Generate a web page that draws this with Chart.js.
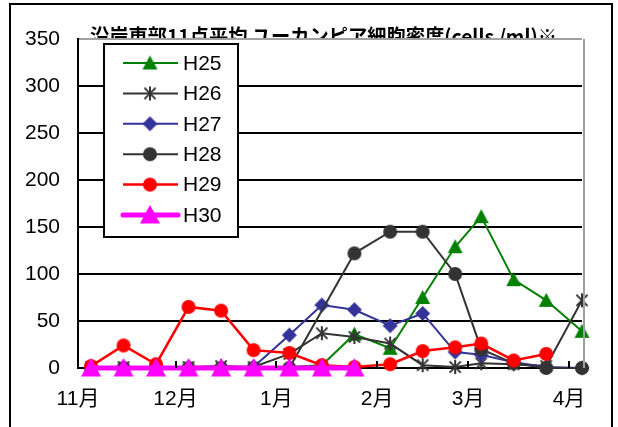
<!DOCTYPE html>
<html>
<head>
<meta charset="utf-8">
<script src="https://cdn.jsdelivr.net/npm/chart.js@4.4.1/dist/chart.umd.min.js"></script>
<style>
  html, body { margin: 0; padding: 0; background: #fff; }
  #wrap { width: 618px; height: 427px; position: relative; }
</style>
</head>
<body>
<div id="wrap"><canvas id="c" width="618" height="427"></canvas></div>
<script>
// ---- data ----
const TITLE = '沿岸東部11点平均 ユーカンピア細胞密度(cells /ml)※';

// sampling dates (month/day), every 5th, 15th and 25th
const sampleDates = ['11/5', '11/15', '11/25', '12/5', '12/15', '12/25',
                     '1/5', '1/15', '1/25', '2/5', '2/15', '2/25',
                     '3/5', '3/15', '3/25', '4/5'];

// month tick labels and their first-day positions (days since 11/1)
const monthLabels = ['11月', '12月', '1月', '2月', '3月', '4月'];
const monthTickDays = [0, 30, 61, 92, 120, 151];

const yTicks = [0, 50, 100, 150, 200, 250, 300, 350];

const seriesNames = ['H25', 'H26', 'H27', 'H28', 'H29', 'H30'];
const h25 = [0, 0, 0, 0, 0, 0, 1, 3, 36, 21, 75, 129, 161, 94, 72, 39];
const h26 = [1, 1, 1, 1, 2, 1, 15, 37, 33, 26, 3, 1, 5, 4, 2, 72];
const h27 = [0, 0, 0, 0, 0, 1, 35, 67, 62, 45, 58, 17, 14, 6, 1, 0];
const h28 = [0, 0, 0, 0, 0, 0, 0, null, 122, 145, 145, 100, 20, 5, 0, 0];
const h29 = [2, 24, 4, 65, 61, 19, 16, 3, 1, 4, 18, 22, 26, 8, 15];
const h30 = [0, 0, 0, 0, 0, 0, 0, 0, 0];

// ---- helpers ----
const monthStart = { 11: 0, 12: 30, 1: 61, 2: 92, 3: 120, 4: 151 };
function dayOf(md) {
  const [m, d] = md.split('/').map(Number);
  return monthStart[m] + d - 1;
}
const sampleDays = sampleDates.map(dayOf);
function toPoints(values) {
  return values.map((v, i) => ({ x: sampleDays[i], y: v }));
}

// marker glyphs drawn into small canvases
function makeMarker(shape, size, color) {
  const pad = 2;
  const c = document.createElement('canvas');
  c.width = c.height = Math.ceil(size + pad * 2);
  const g = c.getContext('2d');
  const m = c.width / 2, r = size / 2;
  g.fillStyle = color;
  g.strokeStyle = color;
  g.beginPath();
  if (shape === 'triangle') {
    g.moveTo(m, m - r);
    g.lineTo(m + r, m + r * 0.85);
    g.lineTo(m - r, m + r * 0.85);
    g.closePath();
    g.fill();
  } else if (shape === 'circle') {
    g.arc(m, m, r, 0, Math.PI * 2);
    g.fill();
  } else if (shape === 'diamond') {
    g.moveTo(m, m - r);
    g.lineTo(m + r, m);
    g.lineTo(m, m + r);
    g.lineTo(m - r, m);
    g.closePath();
    g.fill();
  } else if (shape === 'asterisk') {
    const k = r * 0.8;
    g.lineWidth = 2;
    g.moveTo(m - k, m - k); g.lineTo(m + k, m + k);
    g.moveTo(m + k, m - k); g.lineTo(m - k, m + k);
    g.moveTo(m, m - r); g.lineTo(m, m + r);
    g.stroke();
  }
  return c;
}

const GREEN = '#008000', DARK = '#333333', NAVY = '#333399', RED = '#ff0000', MAGENTA = '#ff00ff';
const markers = [
  makeMarker('triangle', 15, GREEN),
  makeMarker('asterisk', 14, DARK),
  makeMarker('diamond', 15, NAVY),
  makeMarker('circle', 14, DARK),
  makeMarker('circle', 14, RED),
  makeMarker('triangle', 20, MAGENTA)
];
const lineColors = [GREEN, DARK, NAVY, DARK, RED, MAGENTA];
const lineWidths = [2, 2, 2, 2, 2.5, 5];
const seriesValues = [h25, h26, h27, h28, h29, h30];

const datasets = seriesValues.map((vals, i) => ({
  label: seriesNames[i],
  data: toPoints(vals),
  borderColor: lineColors[i],
  backgroundColor: lineColors[i],
  borderWidth: lineWidths[i],
  pointStyle: markers[i],
  pointRadius: 7,
  spanGaps: true,
  tension: 0,
  clip: false,
  order: seriesValues.length - i,
  borderCapStyle: i === 5 ? 'round' : 'butt'
}));

const FONT = '"Liberation Sans", "Noto Sans CJK JP", sans-serif';

// title, frame, legend and small month ticks
const decor = {
  id: 'decor',
  beforeDraw(chart) {
    const ctx = chart.ctx;
    ctx.save();
    ctx.fillStyle = '#fff';
    ctx.fillRect(0, 0, chart.width, chart.height);
    // outer frame
    ctx.strokeStyle = '#000';
    ctx.lineWidth = 2;
    ctx.strokeRect(10, 4, 602, 500);
    // title, partly hidden behind the plot area
    ctx.beginPath();
    ctx.rect(0, 0, chart.width, chart.chartArea.top);
    ctx.clip();
    ctx.fillStyle = '#000';
    ctx.font = 'bold 20px "Noto Sans CJK JP", sans-serif';
    ctx.textBaseline = 'alphabetic';
    const w = ctx.measureText(TITLE).width;
    const sx = 467 / w;
    ctx.translate(90, 44);
    ctx.scale(sx, 1);
    ctx.fillText(TITLE, 0, 0);
    ctx.restore();
  },
  afterDatasetsDraw(chart) {
    const ctx = chart.ctx;
    const area = chart.chartArea;
    const xs = chart.scales.x;
    ctx.save();
    // plot area right edge
    ctx.strokeStyle = '#a0a0a0';
    ctx.lineWidth = 2;
    ctx.beginPath();
    ctx.moveTo(area.right + 2, area.top);
    ctx.lineTo(area.right + 2, area.bottom);
    ctx.stroke();
    // month ticks pointing into the plot
    ctx.strokeStyle = '#000';
    ctx.lineWidth = 2;
    monthTickDays.forEach(d => {
      const px = Math.round(xs.getPixelForValue(d));
      ctx.beginPath();
      ctx.moveTo(px, area.bottom);
      ctx.lineTo(px, area.bottom - 7);
      ctx.stroke();
    });
    // legend
    const lx = 104, ly = 44, lw = 134, lh = 193;
    ctx.fillStyle = '#fff';
    ctx.fillRect(lx, ly, lw, lh);
    ctx.strokeStyle = '#000';
    ctx.lineWidth = 2;
    ctx.strokeRect(lx, ly, lw, lh);
    ctx.font = '21px ' + FONT;
    ctx.textBaseline = 'middle';
    seriesNames.forEach((name, i) => {
      const y = 63 + i * 30.4;
      ctx.strokeStyle = lineColors[i];
      ctx.lineWidth = lineWidths[i];
      ctx.lineCap = i === 5 ? 'round' : 'butt';
      ctx.beginPath();
      ctx.moveTo(123, y);
      ctx.lineTo(178, y);
      ctx.stroke();
      const mk = markers[i];
      ctx.drawImage(mk, 150 - mk.width / 2, y - mk.height / 2);
      ctx.fillStyle = '#000';
      ctx.fillText(name, 183, y + 1);
    });
    ctx.restore();
  }
};

new Chart(document.getElementById('c'), {
  type: 'line',
  data: { datasets },
  options: {
    responsive: false,
    animation: false,
    devicePixelRatio: 1,
    events: [],
    layout: { padding: { top: 39, right: 36, left: 0, bottom: 0 } },
    plugins: { legend: { display: false }, tooltip: { enabled: false }, title: { display: false } },
    scales: {
      x: {
        type: 'linear',
        min: 0,
        max: dayOf('4/5'),
        afterFit(s) { s.height = 59; },
        afterBuildTicks(s) { s.ticks = monthTickDays.map(v => ({ value: v })); },
        grid: { display: false, drawTicks: false },
        border: { display: true, color: '#000', width: 2 },
        ticks: {
          autoSkip: false,
          maxRotation: 0,
          padding: 19,
          color: '#000',
          font: { family: FONT, size: 21 },
          callback: v => monthLabels[monthTickDays.indexOf(v)]
        }
      },
      y: {
        min: 0,
        max: 350,
        afterFit(s) { s.width = 78; },
        afterBuildTicks(s) { s.ticks = yTicks.map(v => ({ value: v })); },
        grid: {
          drawTicks: false,
          lineWidth: 2,
          color: c => (c.tick && c.tick.value === 350 ? '#a0a0a0' : '#000')
        },
        border: { display: true, color: '#000', width: 2 },
        ticks: {
          padding: 18,
          color: '#000',
          font: { family: FONT, size: 21 }
        }
      }
    }
  },
  plugins: [decor]
});
</script>
</body>
</html>
